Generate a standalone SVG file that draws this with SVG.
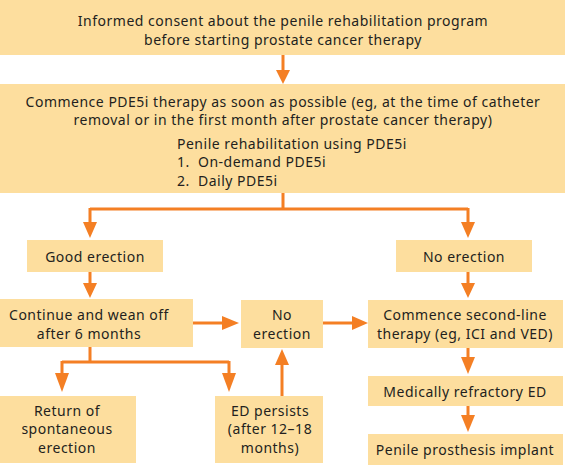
<svg xmlns="http://www.w3.org/2000/svg" width="565" height="466" viewBox="0 0 565 466">
<defs>
<style>
.box{fill:#FDDE9E;}
.t{font-family:"Noto Sans","Open Sans","Liberation Sans",sans-serif;font-size:14px;letter-spacing:0.5px;fill:#231F20;text-anchor:middle;dominant-baseline:central;}
.l{text-anchor:start;}
.c{fill:none;stroke:#F47F24;stroke-width:3;}
.h{fill:#F47F24;}
</style>
</defs>
<rect width="565" height="466" fill="#FFFFFF"/>
<g id="n1"><rect class="box" x="0" y="0" width="565" height="55"/>
<text class="t" x="283" y="20">Informed consent about the penile rehabilitation program</text>
<text class="t" x="283" y="39">before starting prostate cancer therapy</text></g>
<g id="n2"><rect class="box" x="0" y="84" width="565" height="109"/>
<text class="t" x="283" y="101">Commence PDE5i therapy as soon as possible (eg, at the time of catheter</text>
<text class="t" x="283" y="119">removal or in the first month after prostate cancer therapy)</text>
<text class="t l" x="177" y="143">Penile rehabilitation using PDE5i</text>
<text class="t l" x="177" y="161">1.<tspan x="198">On-demand PDE5i</tspan></text>
<text class="t l" x="177" y="180">2.<tspan x="198">Daily PDE5i</tspan></text></g>
<g id="n3"><rect class="box" x="27" y="240" width="136" height="32"/>
<text class="t" x="95" y="256">Good erection</text></g>
<g id="n4"><rect class="box" x="396" y="240" width="136" height="32"/>
<text class="t" x="464" y="256">No erection</text></g>
<g id="n5"><rect class="box" x="0" y="299" width="193" height="48"/>
<text class="t" x="89" y="314">Continue and wean off</text>
<text class="t" x="89" y="333">after 6 months</text></g>
<g id="n6"><rect class="box" x="241" y="300" width="82" height="48"/>
<text class="t" x="282" y="314">No</text>
<text class="t" x="282" y="333">erection</text></g>
<g id="n7"><rect class="box" x="368" y="300" width="195" height="48"/>
<text class="t" x="465" y="314">Commence second-line</text>
<text class="t" x="465" y="333">therapy (eg, ICI and VED)</text></g>
<g id="n8"><rect class="box" x="0" y="396" width="136" height="67"/>
<text class="t" x="67" y="410">Return of</text>
<text class="t" x="67" y="428">spontaneous</text>
<text class="t" x="67" y="447">erection</text></g>
<g id="n9"><rect class="box" x="215" y="396" width="108" height="67"/>
<text class="t" x="270" y="410">ED persists</text>
<text class="t" x="270" y="428">(after 12–18</text>
<text class="t" x="270" y="447">months)</text></g>
<g id="n10"><rect class="box" x="368" y="376" width="195" height="30"/>
<text class="t" x="465" y="391">Medically refractory ED</text></g>
<g id="n11"><rect class="box" x="368" y="434" width="195" height="31"/>
<text class="t" x="465" y="449">Penile prosthesis implant</text></g>
<g id="connectors">
<path class="c" d="M283 55V71"/><path class="h" d="M276 70H290L283 84Z"/>
<path class="c" d="M283 193V209M90 209H468M90 208V224M468 208V224"/>
<path class="h" d="M83 222H97L90 238Z"/><path class="h" d="M461 222H475L468 238Z"/>
<path class="c" d="M90 272V284"/><path class="h" d="M83 283H97L90 298Z"/>
<path class="c" d="M468 272V284"/><path class="h" d="M461 283H475L468 298Z"/>
<path class="c" d="M193 323H223"/><path class="h" d="M222 316V330L239 323Z"/>
<path class="c" d="M323 323H353"/><path class="h" d="M352 316V330L368 323Z"/>
<path class="c" d="M90 347V362M62 362H229M62 361V374M229 361V374"/>
<path class="h" d="M55 373H69L62 392Z"/><path class="h" d="M222 373H236L229 392Z"/>
<path class="c" d="M282 396V364"/><path class="h" d="M275 365H289L282 349Z"/>
<path class="c" d="M468 348V358"/><path class="h" d="M461 357H475L468 374Z"/>
<path class="c" d="M468 406V416"/><path class="h" d="M461 415H475L468 432Z"/>
</g>
</svg>
